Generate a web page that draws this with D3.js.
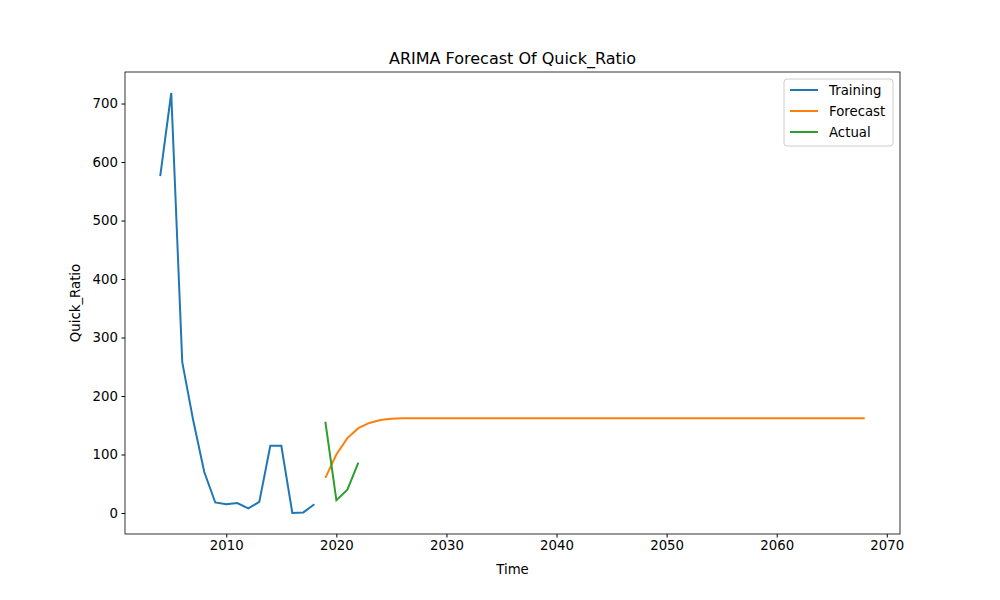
<!DOCTYPE html>
<html>
<head>
<meta charset="utf-8">
<script src="https://cdn.jsdelivr.net/npm/d3@7"></script>
<style>
  body { margin: 0; background: #fff; }
  text { font-family: "DejaVu Sans", sans-serif; }
</style>
</head>
<body>
<svg id="chart" width="1000" height="600"></svg>
<script>
const trainYears = [2004, 2005, 2006, 2007, 2008, 2009, 2010, 2011, 2012, 2013, 2014, 2015, 2016, 2017, 2018];
const trainValues = [576, 718, 258, 158, 70, 18, 15, 17, 8, 19, 115, 115, 0, 1, 15];

const actualYears = [2019, 2020, 2021, 2022];
const actualValues = [156, 22, 40, 86];

const forecastYears = d3.range(2019, 2069);
const forecastValues = [
  60, 100, 128, 145, 154, 159, 161, 162, 162, 162,
  162, 162, 162, 162, 162, 162, 162, 162, 162, 162,
  162, 162, 162, 162, 162, 162, 162, 162, 162, 162,
  162, 162, 162, 162, 162, 162, 162, 162, 162, 162,
  162, 162, 162, 162, 162, 162, 162, 162, 162, 162
];

const xTicks = [2010, 2020, 2030, 2040, 2050, 2060, 2070];
const yTicks = [0, 100, 200, 300, 400, 500, 600, 700];

const margin = { top: 72, right: 100, bottom: 66, left: 125 };
const width = 1000, height = 600;
const boundsWidth = width - margin.left - margin.right;
const boundsHeight = height - margin.top - margin.bottom;

const svg = d3.select("#chart");
const g = svg.append("g").attr("transform", `translate(${margin.left},${margin.top})`);

const scaleX = d3.scaleLinear().domain([2000.8, 2071.2]).range([0, boundsWidth]);
const scaleY = d3.scaleLinear().domain([-35.9, 753.9]).range([boundsHeight, 0]);

const xAxis = g.append("g")
  .attr("transform", `translate(0,${boundsHeight})`)
  .call(d3.axisBottom(scaleX).tickValues(xTicks).tickFormat(d3.format("d")).tickSize(3.5).tickPadding(3.5));
const yAxis = g.append("g")
  .call(d3.axisLeft(scaleY).tickValues(yTicks).tickSize(3.5).tickPadding(3.5));
[xAxis, yAxis].forEach(a => {
  a.select(".domain").remove();
  a.selectAll("text").style("font-size", "13.3px").style("fill", "#000")
    .style("font-family", "DejaVu Sans, sans-serif");
  a.selectAll("line").attr("stroke", "#000");
});

g.append("rect").attr("width", boundsWidth).attr("height", boundsHeight)
  .attr("fill", "none").attr("stroke", "#000").attr("stroke-width", 0.8);

const series = [
  { name: "Training", years: trainYears, values: trainValues, color: "#1f77b4" },
  { name: "Forecast", years: forecastYears, values: forecastValues, color: "#ff7f0e" },
  { name: "Actual", years: actualYears, values: actualValues, color: "#2ca02c" }
];

const line = d3.line().x(d => scaleX(d[0])).y(d => scaleY(d[1]));
series.forEach(s => {
  g.append("path")
    .datum(s.years.map((y, i) => [y, s.values[i]]))
    .attr("d", line)
    .attr("fill", "none")
    .attr("stroke", s.color)
    .attr("stroke-width", 2);
});

svg.append("text").attr("x", margin.left + boundsWidth / 2).attr("y", 64)
  .attr("text-anchor", "middle").style("font-size", "16px").text("ARIMA Forecast Of Quick_Ratio");
svg.append("text").attr("x", margin.left + boundsWidth / 2).attr("y", 574)
  .attr("text-anchor", "middle").style("font-size", "13.3px").text("Time");
svg.append("text").attr("transform", `translate(80,${margin.top + boundsHeight / 2}) rotate(-90)`)
  .attr("text-anchor", "middle").style("font-size", "13.3px").text("Quick_Ratio");

const legend = svg.append("g").attr("transform", "translate(784,79)");
legend.append("rect").attr("width", 109).attr("height", 67).attr("rx", 3)
  .attr("fill", "#fff").attr("fill-opacity", 0.8).attr("stroke", "#ccc");
series.forEach((s, i) => {
  const y = 11 + i * 21;
  legend.append("line").attr("x1", 6).attr("x2", 34).attr("y1", y).attr("y2", y)
    .attr("stroke", s.color).attr("stroke-width", 2);
  legend.append("text").attr("x", 45).attr("y", y + 4.5).style("font-size", "13.3px").text(s.name);
});
</script>
</body>
</html>
